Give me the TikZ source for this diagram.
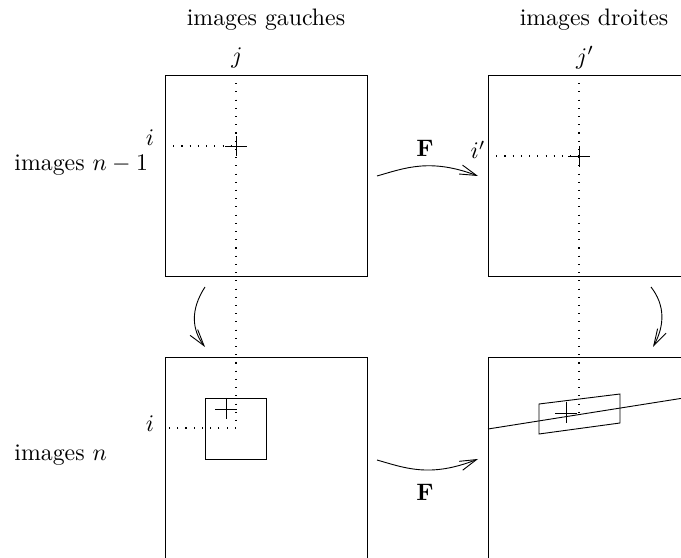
\documentclass[tikz,border=0pt]{standalone}
\usetikzlibrary{arrows.meta,calc}
\begin{document}
\begin{tikzpicture}[x=0.42pt,y=-0.42pt,
  thin line/.style={line width=0.38pt},
  dotline/.style={line width=0.45pt, dash pattern=on 0.45pt off 3pt},
  arr/.style={line width=0.38pt, -{Straight Barb[length=7pt,width=4pt]}},
  lbl/.style={inner sep=0pt, font=\normalsize}]
\useasboundingbox (0,0) rectangle (681,558);
\clip (0,0) rectangle (681,558);
% box corners
\coordinate (TL1) at (165,75);  \coordinate (TL2) at (367,276);
\coordinate (TR1) at (488,75);  \coordinate (TR2) at (690,276);
\coordinate (BL1) at (165,357); \coordinate (BL2) at (367,560);
\coordinate (BR1) at (488,357); \coordinate (BR2) at (690,560);
\draw[thin line] (TL1) rectangle (TL2);
\draw[thin line] (TR1) rectangle (TR2);
\draw[thin line] (BL1) rectangle (BL2);
\draw[thin line] (BR1) rectangle (BR2);
% titles
\node[lbl] (tg) at (266,20) {images gauches};
\node[lbl] (td) at (594,20) {images droites};
\node[lbl,anchor=west] (rn1) at (14,165) {images $n-1$};
\node[lbl,anchor=west] (rn) at (14,455) {images $n$};
% labels
\node[lbl] (j) at (237,58) {$j$};
\node[lbl] (i) at (150,138) {$i$};
\node[lbl] (jp) at (585,58) {$j'$};
\node[lbl] (ip) at (478,150) {$i'$};
\node[lbl] (ib) at (150,424) {$i$};
\node[lbl] (F1) at (425,148) {$\mathbf{F}$};
\node[lbl] (F2) at (425,492) {$\mathbf{F}$};
% left dotted guides and crosses
\coordinate (cL) at (236,146);
\draw[dotline] (236,75) -- (236,428) -- (165,428);
\draw[dotline] (165,146) -- (cL);
\draw[thin line] ($(cL)+(-11,0)$) -- ($(cL)+(11,0)$) ($(cL)+(0,-10)$) -- ($(cL)+(0,10)$);
\draw[thin line] (205,398) rectangle (266,459);
\coordinate (cB) at (226,409);
\draw[thin line] ($(cB)+(-11,0)$) -- ($(cB)+(11,0)$) ($(cB)+(0,-11)$) -- ($(cB)+(0,10)$);
% right dotted guides and crosses
\coordinate (cR) at (579,156);
\draw[dotline] (579,75) -- (579,418);
\draw[dotline] (488,156) -- (cR);
\draw[thin line] ($(cR)+(-11,0)$) -- ($(cR)+(11,0)$) ($(cR)+(0,-10)$) -- ($(cR)+(0,11)$);
\draw[thin line] (488,429) -- (690,397);
\draw[thin line] (539,404) -- (620,394) -- (620,423) -- (539,434) -- cycle;
\coordinate (cP) at (566,413);
\draw[thin line] ($(cP)+(-11,0)$) -- ($(cP)+(11,0)$) ($(cP)+(0,-11)$) -- ($(cP)+(0,10)$);
% arrows
\coordinate (a1s) at (377,176); \coordinate (a1e) at (478,176);
\coordinate (a2s) at (377,460); \coordinate (a2e) at (478,459);
\coordinate (a3s) at (205,287); \coordinate (a3e) at (205,347);
\coordinate (a4s) at (651,287); \coordinate (a4e) at (653,347);
\draw[arr] (a1s) .. controls (405,168) and (430,158) .. (a1e);
\draw[arr] (a2s) .. controls (405,468) and (430,478) .. (a2e);
\draw[arr] (a3s) .. controls (190,310) and (192,330) .. (a3e);
\draw[arr] (a4s) .. controls (665,305) and (665,325) .. (a4e);
\end{tikzpicture}
\end{document}
